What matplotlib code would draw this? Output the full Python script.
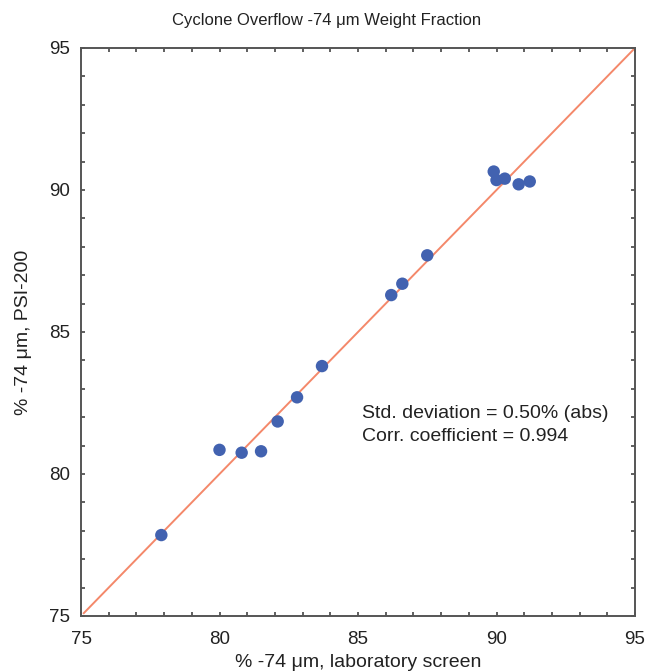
import matplotlib
matplotlib.use("Agg")
import matplotlib.pyplot as plt
from matplotlib.ticker import MultipleLocator

# Data
lab_screen = [77.9, 80.0, 80.8, 81.5, 82.1, 82.8, 83.7, 86.2, 86.6, 87.5,
              89.9, 90.0, 90.3, 90.8, 91.2]
psi_200 = [77.85, 80.85, 80.75, 80.8, 81.85, 82.7, 83.8, 86.3, 86.7, 87.7,
           90.65, 90.35, 90.4, 90.2, 90.3]
parity_line = [75.1, 95.0]
axis_limits = [75, 95]
tick_values = [75, 80, 85, 90, 95]
stats_lines = ["Std. deviation = 0.50% (abs)", "Corr. coefficient = 0.994"]


def main():
    plt.rcParams['font.family'] = ['Liberation Sans', 'DejaVu Sans']

    fig = plt.figure(figsize=(6.54, 6.72), dpi=100)
    ax = fig.add_axes([81 / 654, 1 - 616 / 672, 554 / 654, 568 / 672])

    # 1:1 line and measured points
    ax.plot(parity_line, parity_line, color='#F4886A', linewidth=1.4, zorder=2)
    ax.scatter(lab_screen, psi_200, s=80, color='#4262B0', edgecolors='none', zorder=3)

    ax.set_xlim(axis_limits)
    ax.set_ylim(axis_limits)
    ax.set_xticks(tick_values)
    ax.set_yticks(tick_values)
    ax.xaxis.set_minor_locator(MultipleLocator(1))
    ax.yaxis.set_minor_locator(MultipleLocator(1))
    ax.tick_params(which='both', direction='in', top=True, right=True,
                   length=3, width=1.2, color='#444444')
    ax.tick_params(which='major', labelsize=13.5, labelcolor='#222222')
    ax.tick_params(axis='x', which='major', pad=11)
    ax.tick_params(axis='y', which='major', pad=8)
    for spine in ax.spines.values():
        spine.set_color('#555555')
        spine.set_linewidth(1.4)

    # title is centred on the figure, not the axes
    fig.text(0.5, 1 - 21 / 672, 'Cyclone Overflow -74 \u03bcm Weight Fraction',
             fontsize=12, color='#222222', ha='center', va='center')
    ax.set_xlabel('% -74 \u03bcm, laboratory screen', fontsize=14, color='#222222',
                  labelpad=4)
    ax.set_ylabel('% -74 \u03bcm, PSI-200', fontsize=14, color='#222222', labelpad=12)

    ax.text(85.15, 81.73, "\n".join(stats_lines), fontsize=14, color='#222222',
            va='center', ha='left', linespacing=1.45)

    fig.savefig('out.png', dpi=100)


if __name__ == "__main__":
    main()
